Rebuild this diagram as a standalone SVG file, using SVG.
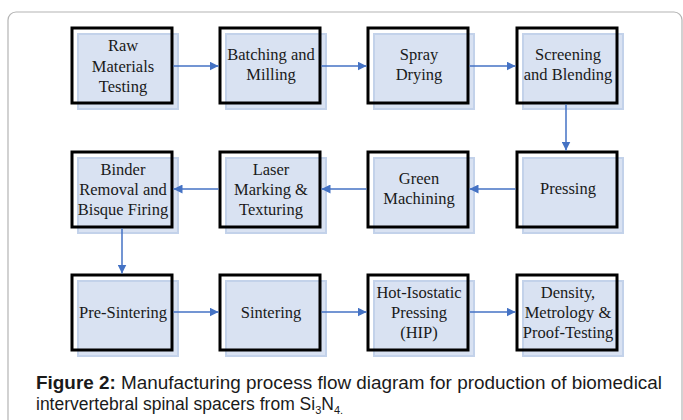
<svg xmlns="http://www.w3.org/2000/svg" width="683" height="420" viewBox="0 0 683 420">
  <style>
    .frame { fill: #ffffff; stroke: #b4b4b4; stroke-width: 1.2; }
    .shade { fill: #d9e2f2; stroke: #c3d2ea; stroke-width: 2; }
    .box { fill: none; stroke: #000000; stroke-width: 3; }
    .lbl { font-family: "Liberation Serif", "Times New Roman", serif; font-size: 16.5px; fill: #1a1a1a; text-anchor: middle; }
    .conn { stroke: #4472c4; stroke-width: 1.5; fill: none; marker-end: url(#head); }
    .cap { font-family: "Liberation Sans", Arial, sans-serif; font-size: 17.5px; fill: #1a1a1a; }
  </style>
  <defs>
    <marker id="head" viewBox="0 0 10 10" refX="10" refY="5" markerWidth="9" markerHeight="9" markerUnits="userSpaceOnUse" orient="auto">
      <path d="M0,0 L10,5 L0,10 z" fill="#4472c4"/>
    </marker>
  </defs>
  <rect width="683" height="420" fill="#ffffff"/>
  <rect class="frame" x="8" y="12" width="674" height="430" rx="8"/>

  <!-- Row 1 -->
  <g id="raw-materials-testing">
    <rect class="shade" x="78" y="34" width="100" height="75"/>
    <rect class="box" x="72" y="28" width="100" height="75"/>
    <text class="lbl"><tspan x="123" y="51">Raw</tspan><tspan x="123" y="72">Materials</tspan><tspan x="123" y="92">Testing</tspan></text>
  </g>
  <g id="batching-milling">
    <rect class="shade" x="226" y="34" width="100" height="75"/>
    <rect class="box" x="220" y="28" width="100" height="75"/>
    <text class="lbl"><tspan x="271" y="60">Batching and</tspan><tspan x="271" y="80">Milling</tspan></text>
  </g>
  <g id="spray-drying">
    <rect class="shade" x="374" y="34" width="100" height="75"/>
    <rect class="box" x="368" y="28" width="100" height="75"/>
    <text class="lbl"><tspan x="419" y="60">Spray</tspan><tspan x="419" y="80">Drying</tspan></text>
  </g>
  <g id="screening-blending">
    <rect class="shade" x="523" y="34" width="100" height="75"/>
    <rect class="box" x="517" y="28" width="100" height="75"/>
    <text class="lbl"><tspan x="568" y="60">Screening</tspan><tspan x="568" y="80">and Blending</tspan></text>
  </g>

  <!-- Row 2 -->
  <g id="binder-removal">
    <rect class="shade" x="78" y="158" width="100" height="75"/>
    <rect class="box" x="72" y="152" width="100" height="75"/>
    <text class="lbl"><tspan x="123" y="175">Binder</tspan><tspan x="123" y="195">Removal and</tspan><tspan x="123" y="215">Bisque Firing</tspan></text>
  </g>
  <g id="laser-marking">
    <rect class="shade" x="226" y="158" width="100" height="75"/>
    <rect class="box" x="220" y="152" width="100" height="75"/>
    <text class="lbl"><tspan x="271" y="175">Laser</tspan><tspan x="271" y="195">Marking &amp;</tspan><tspan x="271" y="215">Texturing</tspan></text>
  </g>
  <g id="green-machining">
    <rect class="shade" x="374" y="158" width="100" height="75"/>
    <rect class="box" x="368" y="152" width="100" height="75"/>
    <text class="lbl"><tspan x="419" y="184">Green</tspan><tspan x="419" y="204">Machining</tspan></text>
  </g>
  <g id="pressing">
    <rect class="shade" x="523" y="158" width="100" height="75"/>
    <rect class="box" x="517" y="152" width="100" height="75"/>
    <text class="lbl" x="568" y="194">Pressing</text>
  </g>

  <!-- Row 3 -->
  <g id="pre-sintering">
    <rect class="shade" x="78" y="281" width="100" height="75"/>
    <rect class="box" x="72" y="275" width="100" height="75"/>
    <text class="lbl" x="123" y="318">Pre-Sintering</text>
  </g>
  <g id="sintering">
    <rect class="shade" x="226" y="281" width="100" height="75"/>
    <rect class="box" x="220" y="275" width="100" height="75"/>
    <text class="lbl" x="271" y="318">Sintering</text>
  </g>
  <g id="hot-isostatic-pressing">
    <rect class="shade" x="374" y="281" width="100" height="75"/>
    <rect class="box" x="368" y="275" width="100" height="75"/>
    <text class="lbl"><tspan x="419" y="298">Hot-Isostatic</tspan><tspan x="419" y="318">Pressing</tspan><tspan x="419" y="338">(HIP)</tspan></text>
  </g>
  <g id="density-metrology">
    <rect class="shade" x="523" y="281" width="100" height="75"/>
    <rect class="box" x="517" y="275" width="100" height="75"/>
    <text class="lbl"><tspan x="568" y="298">Density,</tspan><tspan x="568" y="318">Metrology &amp;</tspan><tspan x="568" y="338">Proof-Testing</tspan></text>
  </g>

  <!-- Connectors -->
  <g id="connectors">
    <line class="conn" x1="173.5" y1="66" x2="218.5" y2="66"/>
    <line class="conn" x1="321.5" y1="66" x2="366.5" y2="66"/>
    <line class="conn" x1="469.5" y1="66" x2="515.5" y2="66"/>
    <line class="conn" x1="566" y1="104.5" x2="566" y2="150.5"/>
    <line class="conn" x1="515.5" y1="189" x2="469.5" y2="189"/>
    <line class="conn" x1="366.5" y1="189" x2="321.5" y2="189"/>
    <line class="conn" x1="218.5" y1="189" x2="173.5" y2="189"/>
    <line class="conn" x1="122" y1="228.5" x2="122" y2="273.5"/>
    <line class="conn" x1="173.5" y1="312" x2="218.5" y2="312"/>
    <line class="conn" x1="321.5" y1="312" x2="366.5" y2="312"/>
    <line class="conn" x1="469.5" y1="312" x2="515.5" y2="312"/>
  </g>

  <!-- Caption -->
  <text class="cap" x="36" y="389" textLength="626" lengthAdjust="spacingAndGlyphs"><tspan font-weight="bold">Figure 2:</tspan> Manufacturing process flow diagram for production of biomedical</text>
  <text class="cap" x="36" y="410">intervertebral spinal spacers from Si<tspan font-size="11" dy="4">3</tspan><tspan dy="-4">N</tspan><tspan font-size="11" dy="4">4.</tspan></text>
</svg>
